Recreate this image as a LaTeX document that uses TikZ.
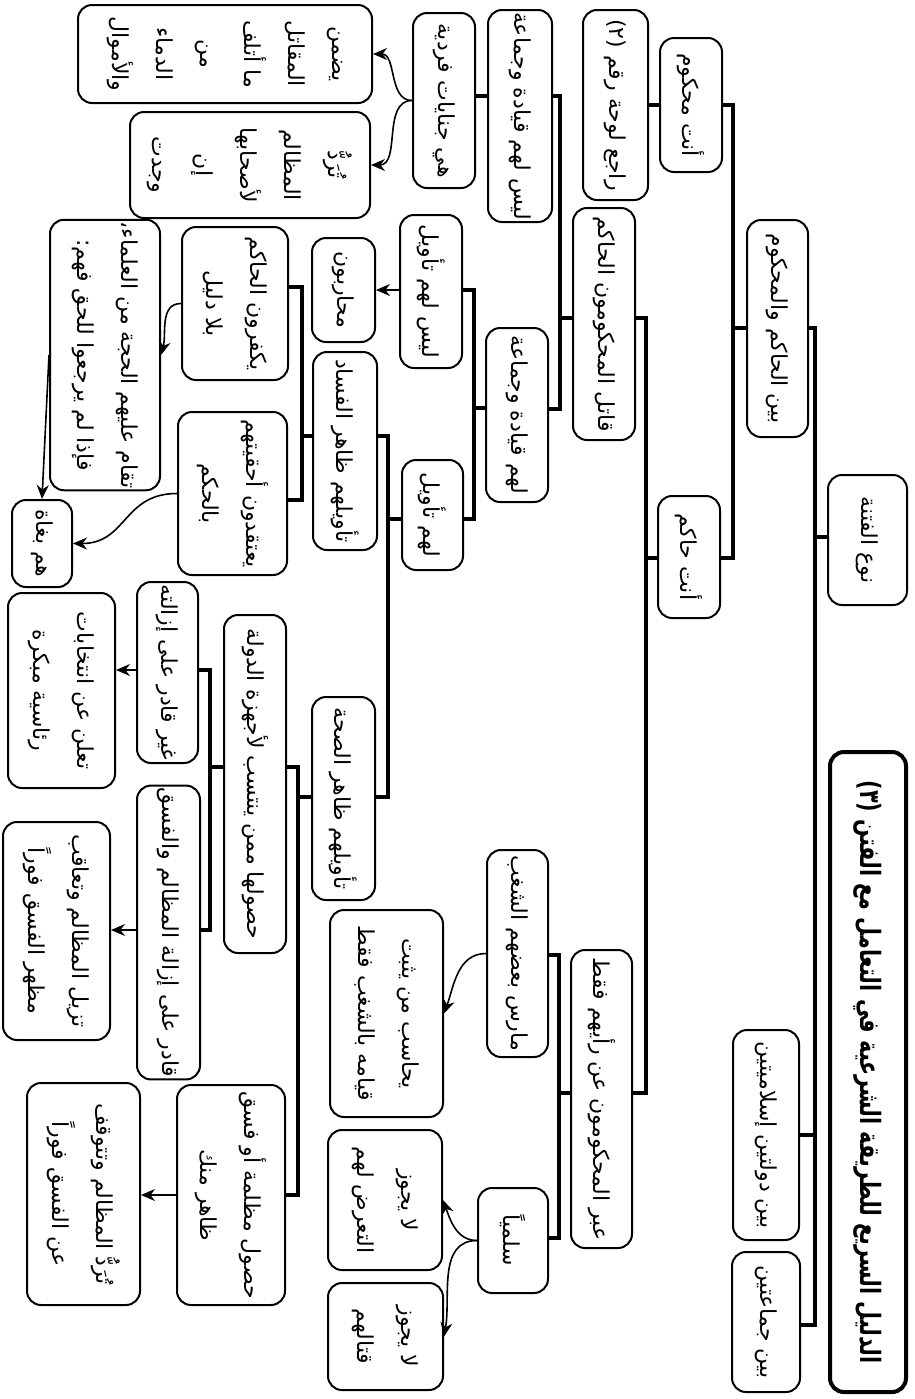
\documentclass[tikz,border=0pt]{standalone}
\usepackage{graphicx}
\usepackage{fontspec}
\newfontfamily\arabicfont[Script=Arabic]{DejaVu Sans}
\TeXXeTstate=1
\usetikzlibrary{arrows.meta}
\newcommand{\artxt}[1]{\beginR #1\endR}
\tikzset{
  box/.style={draw, line width=1pt, rounded corners=7pt, rotate=-90, inner sep=1pt, align=center,
    font=\arabicfont\fontsize{11}{22}\selectfont},
  sz/.style 2 args={minimum height=#1*0.5pt, minimum width=#2*0.5pt},
  bus/.style={line width=1.8pt},
  arr/.style={line width=0.8pt, -{Stealth[length=7pt,width=6pt]}}
}
\begin{document}
\begin{tikzpicture}[x=0.5pt,y=0.5pt]
\fill[white] (0,0) rectangle (915,-1399);
\useasboundingbox (0,0) rectangle (915,-1399);

% nodes
\node[box, sz={76}{640}, line width=2pt, font=\arabicfont\bfseries\fontsize{14}{18}\selectfont] (title) at (868,-1072) {\scalebox{0.74}[1]{\artxt{الدليل السريع للطريقة الشرعية في التعامل مع الفتن (٣)}}};
\node[box, sz={79}{130}] (naw) at (867.5,-540) {\artxt{نوع الفتنة}};
\node[box, sz={61}{217}] (bhm) at (777.5,-328.5) {\artxt{بين الحاكم والمحكوم}};
\node[box, sz={66}{210}] (bdi) at (766,-1135) {\artxt{بين دولتين إسلاميتين}};
\node[box, sz={68}{140}] (bjm) at (766,-1322) {\artxt{بين جماعتين}};
\node[box, sz={62}{134}] (anm) at (691,-105) {\artxt{أنت محكوم}};
\node[box, sz={62}{122}] (anh) at (689,-557) {\artxt{أنت حاكم}};
\node[box, sz={65}{190}] (raj) at (615.5,-105) {\artxt{راجع لوحة رقم (٢)}};
\node[box, sz={62}{232}] (qat) at (604,-324) {\artxt{قاتل المحكومون الحاكم}};
\node[box, sz={61}{298}] (abr) at (601.5,-1099) {\artxt{عبر المحكومون عن رأيهم فقط}};
\node[box, sz={64}{212}] (lqj) at (520,-116) {\artxt{ليس لهم قيادة وجماعة}};
\node[box, sz={62}{174}] (hqj) at (517,-415) {\artxt{لهم قيادة وجماعة}};
\node[box, sz={61}{207}] (mrs) at (517.5,-953.5) {\artxt{مارس بعضهم الشغب}};
\node[box, sz={70}{105}] (slm) at (513,-1240.5) {\artxt{سلمياً}};
\node[box, sz={62}{175}] (hjf) at (444,-100.5) {\artxt{هي جنايات فردية}};
\node[box, sz={62}{153}] (lta) at (431,-291.5) {\artxt{ليس لهم تأويل}};
\node[box, sz={61}{110}] (hta) at (432.5,-515) {\artxt{لهم تأويل}};
\node[box, sz={113}{207}] (yah) at (386.5,-1013.5) {\artxt{يحاسب من يثبت}\\\artxt{قيامه بالشغب فقط}};
\node[box, sz={114}{140}] (lat) at (385,-1200) {\artxt{لا يجوز}\\\artxt{التعرض لهم}};
\node[box, sz={115}{107}] (laq) at (385.5,-1336.5) {\artxt{لا يجوز}\\\artxt{قتالهم}};
\node[box, sz={294}{98}] (ydm) at (225,-54) {\artxt{يضمن}\\\artxt{المقاتل}\\\artxt{ما أتلف}\\\artxt{من}\\\artxt{الدماء}\\\artxt{والأموال}};
\node[box, sz={240}{106}] (trd) at (250,-165) {\artxt{تُرَدُّ}\\\artxt{المظالم}\\\artxt{لأصحابها}\\\artxt{إن}\\\artxt{وجدت}};
\node[box, sz={63}{104}] (mhr) at (343.5,-290) {\artxt{محاربون}};
\node[box, sz={64}{198}] (tzf) at (345,-451) {\artxt{تأويلهم ظاهر الفساد}};
\node[box, sz={63}{203}] (tzs) at (343.5,-798.5) {\artxt{تأويلهم ظاهر الصحة}};
\node[box, sz={106}{153}] (ykf) at (235,-303.5) {\artxt{يكفرون الحاكم}\\\artxt{بلا دليل}};
\node[box, sz={109}{163}] (ytq) at (232.5,-493.5) {\artxt{يعتقدون أحقيتهم}\\\artxt{بالحكم}};
\node[box, sz={110}{266}] (taq) at (105,-355) {\artxt{تقام عليهم الحجة من العلماء\kern0pt،}\\\artxt{فإذا لم يرجعوا للحق فهم\kern0pt:}};
\node[box, sz={60}{87}] (hbg) at (42,-543.5) {\artxt{هم بغاة}};
\node[box, sz={62}{338}] (hsd) at (255,-784) {\artxt{حصولها ممن ينتسب لأجهزة الدولة}};
\node[box, sz={61}{181}] (gqd) at (167.5,-672.5) {\artxt{غير قادر على إزالته}};
\node[box, sz={63}{271}] (qdr) at (168.5,-932.5) {\artxt{قادر على إزالة المظالم والفسق}};
\node[box, sz={107}{195}] (tln) at (61.5,-690.5) {\artxt{تعلن عن انتخابات}\\\artxt{رئاسية مبكرة}};
\node[box, sz={107}{218}] (tzl) at (56.5,-931) {\artxt{تزيل المظالم وتعاقب}\\\artxt{مظهر الفسق فوراً}};
\node[box, sz={108}{220}] (hsm) at (231,-1195) {\artxt{حصول مظلمة أو فسق}\\\artxt{ظاهر منك}};
\node[box, sz={113}{222}] (trf) at (83.5,-1194) {\artxt{تُرَدُّ المظالم وتتوقف}\\\artxt{عن الفسق فوراً}};

% bus junctions
\coordinate (A0) at (815,-537); \coordinate (A1) at (815,-328); \coordinate (A2) at (815,-1135); \coordinate (A3) at (815,-1325);
\coordinate (B0) at (733,-328); \coordinate (B1) at (733,-105); \coordinate (B2) at (733,-558);
\coordinate (C0) at (646,-558); \coordinate (C1) at (646,-318); \coordinate (C2) at (646,-1093);
\coordinate (D0) at (560,-318); \coordinate (D1) at (560,-96); \coordinate (D2) at (560,-409);
\coordinate (F0) at (474,-408); \coordinate (F1) at (474,-290); \coordinate (F2) at (474,-519);
\coordinate (G0) at (388,-519); \coordinate (G1) at (388,-436); \coordinate (G2) at (388,-797);
\coordinate (H0) at (302,-436); \coordinate (H1) at (302,-287); \coordinate (H2) at (302,-500);
\coordinate (I0) at (298,-797); \coordinate (I1) at (298,-767); \coordinate (I2) at (298,-1195);
\coordinate (J0) at (210,-767); \coordinate (J1) at (210,-670); \coordinate (J2) at (210,-930);
\coordinate (K0) at (559,-1093); \coordinate (K1) at (559,-955); \coordinate (K2) at (559,-1238);

% thick brackets
\draw[bus] (naw.south |- A0) -- (A0);
\draw[bus] (bhm.north |- A1) -- (A1) -- (A3) -- (bjm.north |- A3);
\draw[bus] (A2) -- (bdi.north |- A2);

\draw[bus] (bhm.south |- B0) -- (B0);
\draw[bus] (anm.north |- B1) -- (B1) -- (B2) -- (anh.north |- B2);
\draw[bus] (anm.south) -- (raj.north);

\draw[bus] (anh.south |- C0) -- (C0);
\draw[bus] (qat.north |- C1) -- (C1) -- (C2) -- (abr.north |- C2);

\draw[bus] (qat.south |- D0) -- (D0);
\draw[bus] (lqj.north |- D1) -- (D1) -- (D2) -- (hqj.north |- D2);
\draw[bus] (lqj.south |- D1) -- (hjf.north |- D1);

\draw[bus] (hqj.south |- F0) -- (F0);
\draw[bus] (lta.north |- F1) -- (F1) -- (F2) -- (hta.north |- F2);

\draw[bus] (hta.south |- G0) -- (G0);
\draw[bus] (tzf.north |- G1) -- (G1) -- (G2) -- (tzs.north |- G2);

\draw[bus] (tzf.south |- H0) -- (H0);
\draw[bus] (ykf.north |- H1) -- (H1) -- (H2) -- (ytq.north |- H2);

\draw[bus] (tzs.south |- I0) -- (I0);
\draw[bus] (hsd.north |- I1) -- (I1) -- (I2) -- (hsm.north |- I2);

\draw[bus] (hsd.south |- J0) -- (J0);
\draw[bus] (gqd.north |- J1) -- (J1) -- (J2) -- (qdr.north |- J2);

\draw[bus] (abr.south |- K0) -- (K0);
\draw[bus] (mrs.north |- K1) -- (K1) -- (K2) -- (slm.north |- K2);

% arrows
\draw[arr] (lta.south |- F1) -- (mhr.north |- F1);
\draw[arr] (gqd.south |- J1) -- (tln.north |- J1);
\draw[arr] (qdr.south |- J2) -- (tzl.north |- J2);
\draw[arr] (hsm.south |- I2) -- (trf.north |- I2);
\draw[arr] (hjf.south) to[out=180,in=0] (ydm.north);
\draw[arr] (hjf.south) to[out=180,in=0] (trd.north);
\draw[arr] (ykf.south) to[out=180,in=75] (taq.north);
\draw[arr] (taq.south) -- (hbg.west);
\draw[arr] (ytq.south) to[out=180,in=0,looseness=1.2] (hbg.north);
\draw[arr] (mrs.south) to[out=180,in=70] (yah.north);
\draw[arr] (slm.south) to[out=180,in=-70] (lat.north);
\draw[arr] (slm.south) to[out=180,in=80] (laq.north);
\end{tikzpicture}
\end{document}
